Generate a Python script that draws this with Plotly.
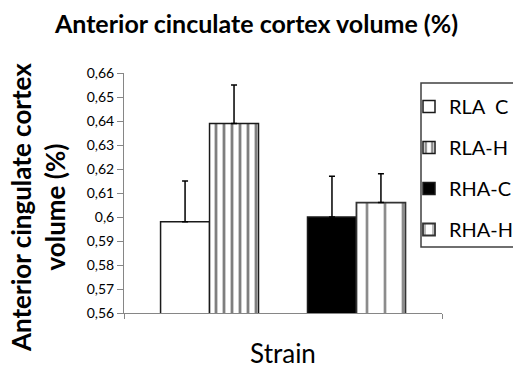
import plotly.graph_objects as go

# ---- data ----
category = ["Strain"]
series_names = ["RLA\u00a0\u00a0C", "RLA-H", "RHA-C", "RHA-H"]
means = [0.598, 0.639, 0.600, 0.606]
errors = [0.017, 0.016, 0.017, 0.012]
y_ticks = [0.56, 0.57, 0.58, 0.59, 0.60, 0.61, 0.62, 0.63, 0.64, 0.65, 0.66]
y_ticktext = ["0,56", "0,57", "0,58", "0,59", "0,6", "0,61", "0,62", "0,63", "0,64", "0,65", "0,66"]

FONT = "Lato"
W, H = 513, 374
L, R, T, B = 124, 71, 73, 61
PW, PH = W - L - R, H - T - B

styles = [
    dict(color="white", line=dict(color="#1a1a1a", width=1.5)),
    dict(color="white", line=dict(color="#1a1a1a", width=1.5),
         pattern=dict(shape="|", fgcolor="#000000", bgcolor="white", size=8, solidity=0.35)),
    dict(color="black", line=dict(color="#1a1a1a", width=1.5)),
    dict(color="white", line=dict(color="#333333", width=1.8),
         pattern=dict(shape="|", fgcolor="#1a1a1a", bgcolor="white", size=18, solidity=0.15)),
]

fig = go.Figure()
order = [0, 1, None, 2, 3]  # None = empty slot between the two strains
for idx in order:
    if idx is None:
        fig.add_trace(go.Bar(x=category, y=[None], showlegend=False, hoverinfo="skip",
                             marker=dict(color="rgba(0,0,0,0)")))
        continue
    fig.add_trace(go.Bar(
        x=category, y=[means[idx]], name=series_names[idx],
        legendgroup=f"g{idx}",
        marker=styles[idx],
        error_y=dict(type="data", symmetric=False, array=[errors[idx]], arrayminus=[0],
                     color="black", thickness=1.5, width=3),
    ))

fig.update_layout(
    width=W, height=H,
    margin=dict(l=L, r=R, t=T, b=B, autoexpand=False),
    paper_bgcolor="white", plot_bgcolor="white",
    barmode="group", bargap=0.23, bargroupgap=0,
    font=dict(family=FONT, color="black"),
    title=dict(text="<b>Anterior cinculate cortex volume (%)</b>", x=0.5, xref="container",
               xanchor="center", y=1 - 24 / H, yanchor="middle",
               font=dict(size=25, family=FONT, color="black")),
    legend=dict(x=(409 - L) / PW, y=(H - B - 87) / PH, xanchor="left", yanchor="top",
                bgcolor="rgba(0,0,0,0)", borderwidth=0,
                font=dict(size=20, family=FONT, color="black"),
                tracegroupgap=12, traceorder="grouped"),
    showlegend=True,
)

# legend frame (open at the right edge, as in the reference)
fig.add_shape(type="rect", xref="paper", yref="paper",
              x0=(421 - L) / PW, x1=(530 - L) / PW,
              y0=(H - B - 247) / PH, y1=(H - B - 83) / PH,
              line=dict(color="#404040", width=1.5), fillcolor="white", layer="below")

fig.update_xaxes(
    type="category", showticklabels=False, showline=True, linecolor="#868686", linewidth=1,
    ticks="outside", tickson="boundaries", ticklen=5, tickcolor="#868686",
    showgrid=False, zeroline=False,
    title=dict(text="Strain", font=dict(size=26, family=FONT, color="black"), standoff=31),
)
fig.update_yaxes(
    range=[0.56, 0.66], tickvals=y_ticks, ticktext=y_ticktext,
    showline=True, linecolor="#868686", linewidth=1,
    ticks="outside", ticklen=6, tickcolor="#868686",
    tickfont=dict(size=14, family=FONT, color="black"),
    showgrid=False, zeroline=False,
)

fig.add_annotation(
    text="<b>Anterior cingulate cortex<br>volume (%)</b>", textangle=-90,
    xref="paper", yref="paper", x=(38 - L) / PW, y=(H - B - 208) / PH,
    xanchor="center", yanchor="middle", showarrow=False,
    font=dict(size=26, family=FONT, color="black"),
)

fig.write_html("out.html")
